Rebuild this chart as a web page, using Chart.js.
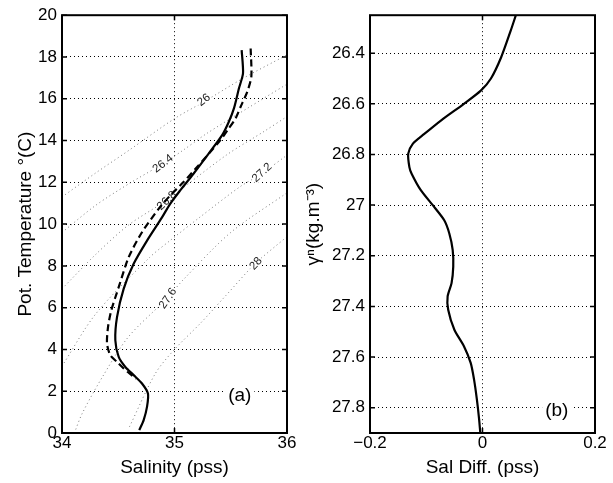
<!DOCTYPE html>
<html>
<head>
<meta charset="utf-8">
<script src="https://cdn.jsdelivr.net/npm/chart.js@4.4.1/dist/chart.umd.min.js"></script>
<style>
html,body{margin:0;padding:0;background:#fff;}
#wrap{position:relative;width:613px;height:483px;overflow:hidden;}
#p1{position:absolute;left:0;top:0;}
#p2{position:absolute;left:300px;top:0;}
</style>
</head>
<body>
<div id="wrap">
<canvas id="p1" width="300" height="483"></canvas>
<canvas id="p2" width="313" height="483"></canvas>
</div>
<script>
// ---------- tick labels ----------
const salTicks = [34, 35, 36];
const tempTicks = [0, 2, 4, 6, 8, 10, 12, 14, 16, 18, 20];
const diffTicks = [-0.2, 0, 0.2];
const gammaTicks = [26.4, 26.6, 26.8, 27, 27.2, 27.4, 27.6, 27.8];

// ---------- panel (a): theta-S curves ----------
const solidSal  = [35.597,35.609,35.573,35.529,35.484,35.425,35.307,35.167,35.049,34.96,34.889,34.756,34.637,34.548,34.489,34.474,34.504,34.563,34.637,34.711,34.764,34.756,34.726,34.687];
const solidTemp = [18.33,17.22,16.5,15.55,14.91,14.27,13.4,12.4,11.6,10.96,10.32,9.21,8.1,6.9,5.55,4.44,3.64,3.16,2.77,2.37,1.89,1.26,0.62,0.14];
const dashedSal  = [35.677,35.683,35.647,35.588,35.544,35.484,35.39,35.197,35.078,34.96,34.859,34.711,34.593,34.504,34.438,34.409,34.4,34.43,34.489,34.548,34.6,34.66];
const dashedTemp = [18.41,17.06,16.34,15.62,15.07,14.59,13.9,12.71,12.0,11.36,10.73,9.61,8.42,6.98,5.87,5.07,4.28,3.72,3.4,3.09,2.85,2.6];

// ---------- panel (a): neutral density contours ----------
const contourLevels = ['26', '26.4', '26.8', '27.2', '27.6', '28'];
const c260Sal  = [34.0,34.3,34.6,35.0,35.26,35.6,36.0];
const c260Temp = [11.3,12.45,13.55,15.05,15.85,16.95,18.1];
const c264Sal  = [34.0,34.3,34.6,34.9,35.08,35.29,35.65,36.0];
const c264Temp = [9.6,10.9,11.95,12.9,13.55,14.35,15.55,16.7];
const c268Sal  = [34.0,34.3,34.59,34.93,35.46,35.8,36.0];
const c268Temp = [6.9,8.55,9.95,11.15,13.3,14.45,15.15];
const c272Sal  = [34.0,34.3,34.78,34.96,35.23,35.58,35.77,36.0];
const c272Temp = [3.2,5.7,8.41,9.21,10.35,11.78,12.4,13.3];
const c276Sal  = [34.11,34.18,34.36,34.59,34.93,35.08,35.5,36.0];
const c276Temp = [0.0,0.94,2.69,4.6,6.43,7.35,9.6,11.5];
const c280Sal  = [34.6,34.83,35.0,35.23,35.46,35.716,36.0];
const c280Temp = [0.3,2.85,4.0,5.25,6.6,8.1,9.4];
const contourSal  = [c260Sal, c264Sal, c268Sal, c272Sal, c276Sal, c280Sal];
const contourTemp = [c260Temp, c264Temp, c268Temp, c272Temp, c276Temp, c280Temp];
const contourLabelSal  = [35.262, 34.898, 34.933, 35.778, 34.942, 35.724];
const contourLabelTemp = [15.94, 12.89, 11.12, 12.46, 6.44, 8.11];

// ---------- panel (b): salinity difference ----------
const salDiff = [0.059,0.050,0.033,0.015,-0.003,-0.033,-0.074,-0.104,-0.124,-0.132,-0.130,-0.126,-0.110,-0.086,-0.068,-0.059,-0.053,-0.052,-0.055,-0.062,-0.061,-0.050,-0.033,-0.021,-0.015,-0.010,-0.006,-0.004];
const gammaN  = [26.252,26.312,26.417,26.50,26.548,26.60,26.666,26.72,26.758,26.797,26.85,26.876,26.94,27.007,27.06,27.112,27.177,27.243,27.308,27.36,27.413,27.492,27.557,27.623,27.689,27.767,27.846,27.898];

// ---------- helpers ----------
const FONT = "'Liberation Sans', Arial, Helvetica, sans-serif";
Chart.defaults.font.family = FONT;
Chart.defaults.color = '#000';
const pts = (xs, ys) => xs.map((x, i) => ({x: x, y: ys[i]}));
const fmt = v => String(v).replace('-', '\u2212');
const setTicks = arr => (scale) => { scale.ticks = arr.map(v => ({value: v})); };

const boxPlugin = {
  id: 'box',
  afterDraw(chart) {
    const {ctx, chartArea: a, scales} = chart;
    const xs = scales.x, ys = scales.y, L = 5;
    ctx.save();
    ctx.strokeStyle = '#000';
    ctx.lineWidth = 1.5;
    ctx.beginPath();
    xs.ticks.forEach(t => {
      const p = xs.getPixelForValue(t.value);
      ctx.moveTo(p, a.bottom); ctx.lineTo(p, a.bottom - L);
      ctx.moveTo(p, a.top); ctx.lineTo(p, a.top + L);
    });
    ys.ticks.forEach(t => {
      const p = ys.getPixelForValue(t.value);
      ctx.moveTo(a.left, p); ctx.lineTo(a.left + L, p);
      ctx.moveTo(a.right, p); ctx.lineTo(a.right - L, p);
    });
    ctx.stroke();
    ctx.lineWidth = 2;
    ctx.strokeRect(a.left, a.top, a.right - a.left, a.bottom - a.top);
    ctx.restore();
  }
};

const panelLabelPlugin = {
  id: 'panelLabel',
  afterDatasetsDraw(chart, args, opts) {
    const {ctx, scales} = chart;
    const px = scales.x.getPixelForValue(opts.x);
    const py = scales.y.getPixelForValue(opts.y);
    ctx.save();
    ctx.font = '19px ' + FONT;
    const w = ctx.measureText(opts.text).width;
    ctx.fillStyle = '#fff';
    ctx.fillRect(px - w / 2 - 3, py - 11, w + 6, 22);
    ctx.fillStyle = '#000';
    ctx.textAlign = 'center';
    ctx.textBaseline = 'middle';
    ctx.fillText(opts.text, px, py);
    ctx.restore();
  }
};

const contourLabelPlugin = {
  id: 'contourLabels',
  afterDatasetDraw(chart, args) {
    if (args.index !== 2) return;
    const {ctx, scales} = chart;
    const xs = scales.x, ys = scales.y;
    ctx.save();
    ctx.font = '11.5px ' + FONT;
    ctx.textAlign = 'center';
    ctx.textBaseline = 'middle';
    contourLevels.forEach((lev, k) => {
      const S = contourSal[k], T = contourTemp[k];
      const s0 = contourLabelSal[k], t0 = contourLabelTemp[k];
      let j = 0;
      while (j < S.length - 2 && S[j + 1] < s0) j++;
      const ang = Math.atan2(ys.getPixelForValue(T[j + 1]) - ys.getPixelForValue(T[j]),
                             xs.getPixelForValue(S[j + 1]) - xs.getPixelForValue(S[j])) - 0.12;
      const px = xs.getPixelForValue(s0), py = ys.getPixelForValue(t0);
      const w = ctx.measureText(lev).width;
      ctx.save();
      ctx.translate(px, py);
      ctx.rotate(ang);
      ctx.fillStyle = '#fff';
      ctx.fillRect(-w / 2 - 1, -5, w + 2, 10);
      ctx.fillStyle = '#222';
      ctx.fillText(lev, 0, 0);
      ctx.restore();
    });
    ctx.restore();
  }
};

const tickFont = {family: FONT, size: 17};
const titleFont = {family: FONT, size: 19};
const gridOpts = {color: '#000', lineWidth: 1, drawTicks: false};
const borderOpts = {display: false, dash: [1, 3]};

// ---------- panel (a) ----------
const dsA = [
  {data: pts(solidSal, solidTemp), showLine: true, borderColor: '#000', borderWidth: 2.2, pointRadius: 0, tension: 0.25},
  {data: pts(dashedSal, dashedTemp), showLine: true, borderColor: '#000', borderWidth: 2.2, borderDash: [7, 4], pointRadius: 0, tension: 0.25}
];
contourLevels.forEach((lev, k) => {
  dsA.push({data: pts(contourSal[k], contourTemp[k]), showLine: true, borderColor: '#7a7a7a', borderWidth: 1, borderDash: [1, 3], pointRadius: 0, tension: 0.3});
});

new Chart(document.getElementById('p1'), {
  type: 'scatter',
  data: {datasets: dsA},
  options: {
    responsive: false, animation: false, devicePixelRatio: 1,
    layout: {padding: {left: 0, top: 14, right: 13, bottom: 0}},
    plugins: {legend: {display: false}, tooltip: {enabled: false},
              panelLabel: {text: '(a)', x: 35.58, y: 1.8}},
    scales: {
      x: {type: 'linear', min: 34, max: 36,
          afterBuildTicks: setTicks(salTicks),
          afterFit: s => { s.height = 50; },
          grid: gridOpts, border: borderOpts,
          ticks: {padding: 0, font: tickFont, color: '#000', autoSkip: false, maxRotation: 0, callback: v => fmt(v)},
          title: {display: true, text: 'Salinity (pss)', font: titleFont, color: '#000', padding: {top: 0, bottom: 4}}},
      y: {type: 'linear', min: 0, max: 20,
          afterBuildTicks: setTicks(tempTicks),
          afterFit: s => { s.width = 62; },
          grid: gridOpts, border: borderOpts,
          ticks: {padding: 5, font: tickFont, color: '#000', autoSkip: false, callback: v => fmt(v)},
          title: {display: true, text: 'Pot. Temperature \u00b0(C)', font: titleFont, color: '#000', padding: {top: 14, bottom: 0}}}
    }
  },
  plugins: [contourLabelPlugin, panelLabelPlugin, boxPlugin]
});

// ---------- panel (b) ----------
new Chart(document.getElementById('p2'), {
  type: 'scatter',
  data: {datasets: [
    {data: pts(salDiff, gammaN), showLine: true, borderColor: '#000', borderWidth: 2.2, pointRadius: 0, tension: 0.25}
  ]},
  options: {
    responsive: false, animation: false, devicePixelRatio: 1,
    layout: {padding: {left: 0, top: 14, right: 18, bottom: 0}},
    plugins: {legend: {display: false}, tooltip: {enabled: false},
              panelLabel: {text: '(b)', x: 0.132, y: 27.814}},
    scales: {
      x: {type: 'linear', min: -0.2, max: 0.2,
          afterBuildTicks: setTicks(diffTicks),
          afterFit: s => { s.height = 50; },
          grid: gridOpts, border: borderOpts,
          ticks: {padding: 0, font: tickFont, color: '#000', autoSkip: false, maxRotation: 0, callback: v => fmt(v)},
          title: {display: true, text: 'Sal Diff. (pss)', font: titleFont, color: '#000', padding: {top: 0, bottom: 4}}},
      y: {type: 'linear', min: 26.25, max: 27.9, reverse: true,
          afterBuildTicks: setTicks(gammaTicks),
          afterFit: s => { s.width = 70; },
          grid: gridOpts, border: borderOpts,
          ticks: {padding: 5, font: tickFont, color: '#000', autoSkip: false, callback: v => fmt(v)},
          title: {display: true, text: '\u03b3\u207f(kg.m\u207b\u00b3)', font: titleFont, color: '#000', padding: {top: 2, bottom: 0}}}
    }
  },
  plugins: [panelLabelPlugin, boxPlugin]
});
</script>
</body>
</html>
